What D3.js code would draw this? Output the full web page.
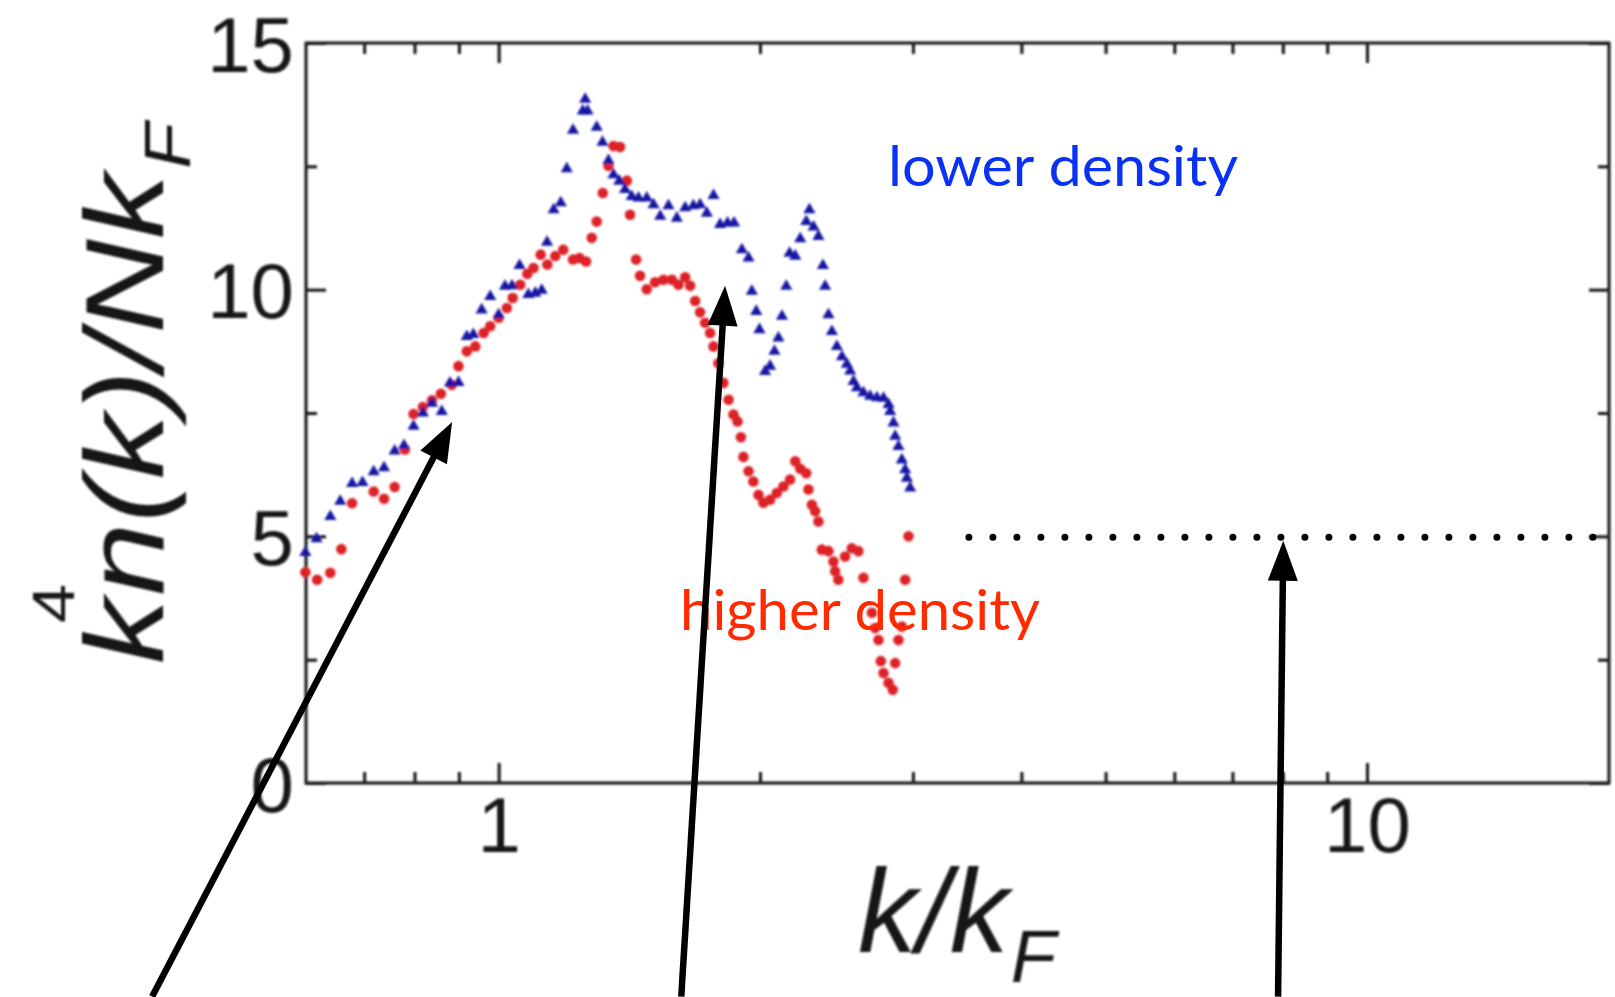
<!DOCTYPE html>
<html>
<head>
<meta charset="utf-8">
<script src="https://cdn.jsdelivr.net/npm/d3@7"></script>
<style>
  html, body { margin: 0; padding: 0; background: #fff; }
  svg { display: block; }
</style>
</head>
<body>
<svg id="chart" width="1615" height="997"></svg>
<script>
// Momentum distribution k^4 n(k) / N k_F versus k / k_F for two densities.
const lowerDensityK = [0.599,0.617,0.640,0.657,0.678,0.697,0.718,0.738,0.759,0.778,
  0.798,0.818,0.838,0.860,0.879,0.899,0.919,0.935,0.956,0.978,
  1.000,1.017,1.036,1.057,1.082,1.102,1.121,1.137,1.157,1.179,
  1.198,1.218,1.250,1.266,1.258,1.297,1.317,1.338,1.356,1.377,
  1.398,1.423,1.449,1.481,1.508,1.535,1.569,1.604,1.640,1.676,
  1.706,1.737,1.768,1.799,1.835,1.867,1.906,1.940,1.957,1.980,
  1.997,2.027,2.054,2.078,2.100,2.120,2.144,2.163,2.196,2.225,
  2.261,2.280,2.305,2.335,2.363,2.377,2.398,2.420,2.452,2.485,
  2.518,2.540,2.563,2.586,2.631,2.678,2.727,2.775,2.812,2.824,
  2.849,2.862,2.887,2.913,2.939,2.952,2.978];
const lowerDensityValue = [4.67,4.95,5.40,5.71,6.07,6.09,6.31,6.39,6.73,6.84,
  7.23,7.50,7.70,7.53,8.11,8.12,9.05,9.09,9.59,9.86,
  9.49,10.07,10.08,10.49,9.90,9.93,9.99,10.96,11.62,11.76,
  12.45,13.23,13.62,13.62,13.86,13.29,12.99,12.62,12.33,12.20,
  12.03,11.89,11.86,11.86,11.72,11.49,11.70,11.45,11.66,11.70,
  11.72,11.55,11.91,11.32,11.35,11.35,10.81,10.64,9.97,9.56,
  9.19,8.34,8.45,8.75,9.02,9.46,10.07,10.74,10.68,11.03,
  11.38,11.62,11.27,11.08,10.49,10.07,9.49,9.15,8.85,8.64,
  8.49,8.35,8.14,8.01,7.91,7.84,7.81,7.80,7.67,7.53,
  7.30,7.03,6.82,6.55,6.35,6.18,5.98];

const higherDensityK = [0.599,0.618,0.640,0.659,0.678,0.718,0.738,0.759,0.780,0.798,
  0.818,0.838,0.858,0.883,0.899,0.919,0.940,0.961,0.978,1.000,
  1.022,1.038,1.059,1.079,1.097,1.118,1.138,1.162,1.187,1.218,
  1.239,1.261,1.280,1.297,1.318,1.338,1.356,1.380,1.405,1.417,
  1.440,1.455,1.481,1.514,1.548,1.583,1.611,1.640,1.662,1.684,
  1.706,1.729,1.752,1.768,1.791,1.815,1.840,1.864,1.884,1.901,
  1.914,1.940,1.965,1.992,2.018,2.054,2.091,2.128,2.166,2.196,
  2.225,2.261,2.274,2.295,2.315,2.335,2.356,2.398,2.430,2.441,
  2.462,2.506,2.551,2.596,2.631,2.691,2.714,2.738,2.755,2.775,
  2.812,2.844,2.862,2.887,2.913,2.939,2.965];
const higherDensityValue = [4.27,4.12,4.26,4.74,5.67,5.91,5.76,6.00,6.76,7.48,
  7.62,7.76,7.89,8.07,8.45,8.75,8.85,9.12,9.26,9.43,
  9.63,9.83,10.10,10.32,10.44,10.71,10.51,10.68,10.81,10.61,
  10.64,10.57,11.05,11.38,11.96,12.51,12.91,12.89,12.21,11.52,
  10.61,10.28,10.01,10.15,10.20,10.20,10.10,10.25,10.08,9.77,
  9.54,9.33,9.12,8.85,8.51,8.11,7.77,7.47,7.33,7.01,
  6.61,6.32,6.11,5.84,5.68,5.74,5.88,6.01,6.15,6.52,
  6.37,6.28,5.95,5.64,5.51,5.30,4.73,4.70,4.49,4.29,
  4.12,4.59,4.76,4.70,4.16,3.45,3.14,2.90,2.47,2.23,
  2.03,1.89,2.43,2.90,3.17,4.12,5.00];

// Axis ticks
const xMajorTicks = [1, 10];
const xMinorTicks = [0.7, 0.8, 0.9, 2, 3, 4, 5, 6, 7, 8, 9];
const yMajorTicks = [0, 5, 10, 15];
const yMinorTicks = [2.5, 7.5, 12.5];

// Large-k tail level (dotted line)
const tailLevel = 5;
const tailRange = [3.48, 19];

// Arrows: start below the axis, pointing at regions of the curve
const arrowSpecs = [
  { from: [0.399, -4.33], to: [0.884, 7.32] },
  { from: [1.623, -4.33], to: [1.823, 10.08] },
  { from: [7.90, -4.33], to: [8.01, 4.91] }
];

const svg = d3.select("#chart");

const x = d3.scaleLog().domain([0.6, 19]).range([306, 1609]);
const y = d3.scaleLinear().domain([0, 15]).range([783, 43]);

const defs = svg.append("defs");
defs.append("filter").attr("id", "soft")
  .attr("x", "-5%").attr("y", "-5%").attr("width", "110%").attr("height", "110%")
  .append("feGaussianBlur").attr("stdDeviation", 0.9);

const fig = svg.append("g").attr("filter", "url(#soft)");

const axisFont = "'Liberation Sans', Arial, Helvetica, sans-serif";
const ink = "#151515";

function styleAxis(g, withLabels) {
  g.select(".domain").remove();
  g.selectAll(".tick line").attr("stroke", ink).attr("stroke-width", 3);
  if (withLabels) {
    g.attr("font-size", 78).attr("font-family", axisFont);
    g.selectAll(".tick text").attr("fill", ink);
  }
}

// Bottom axis
fig.append("g").attr("transform", `translate(0,${y(0)})`)
  .call(d3.axisBottom(x).tickValues(xMajorTicks).tickSize(-20).tickSizeOuter(0)
    .tickPadding(14).tickFormat(d3.format("d")))
  .call(g => styleAxis(g, true));
fig.append("g").attr("transform", `translate(0,${y(0)})`)
  .call(d3.axisBottom(x).tickValues(xMinorTicks).tickSize(-11).tickSizeOuter(0).tickFormat(""))
  .call(g => styleAxis(g, false));

// Top axis
fig.append("g").attr("transform", `translate(0,${y(15)})`)
  .call(d3.axisTop(x).tickValues(xMajorTicks).tickSize(-20).tickSizeOuter(0).tickFormat(""))
  .call(g => styleAxis(g, false));
fig.append("g").attr("transform", `translate(0,${y(15)})`)
  .call(d3.axisTop(x).tickValues(xMinorTicks).tickSize(-11).tickSizeOuter(0).tickFormat(""))
  .call(g => styleAxis(g, false));

// Left axis
fig.append("g").attr("transform", `translate(${x(0.6)},0)`)
  .call(d3.axisLeft(y).tickValues(yMajorTicks).tickSize(-20).tickSizeOuter(0)
    .tickPadding(12).tickFormat(d3.format("d")))
  .call(g => styleAxis(g, true))
  .call(g => g.selectAll(".tick text").attr("dy", "0.36em"));
fig.append("g").attr("transform", `translate(${x(0.6)},0)`)
  .call(d3.axisLeft(y).tickValues(yMinorTicks).tickSize(-11).tickSizeOuter(0).tickFormat(""))
  .call(g => styleAxis(g, false));

// Right axis
fig.append("g").attr("transform", `translate(${x(19)},0)`)
  .call(d3.axisRight(y).tickValues(yMajorTicks).tickSize(-20).tickSizeOuter(0).tickFormat(""))
  .call(g => styleAxis(g, false));
fig.append("g").attr("transform", `translate(${x(19)},0)`)
  .call(d3.axisRight(y).tickValues(yMinorTicks).tickSize(-11).tickSizeOuter(0).tickFormat(""))
  .call(g => styleAxis(g, false));

// Plot frame
fig.append("rect")
  .attr("x", x(0.6)).attr("y", y(15))
  .attr("width", x(19) - x(0.6)).attr("height", y(0) - y(15))
  .attr("fill", "none").attr("stroke", ink).attr("stroke-width", 3);

// Higher density: red circles
fig.append("g").selectAll("path")
  .data(d3.range(higherDensityK.length))
  .join("path")
  .attr("d", d3.symbol(d3.symbolCircle, 88))
  .attr("transform", i => `translate(${x(higherDensityK[i])},${y(higherDensityValue[i])})`)
  .attr("fill", "#dc2228");

// Lower density: blue triangles
fig.append("g").selectAll("path")
  .data(d3.range(lowerDensityK.length))
  .join("path")
  .attr("d", d3.symbol(d3.symbolTriangle, 64))
  .attr("transform", i => `translate(${x(lowerDensityK[i])},${y(lowerDensityValue[i])})`)
  .attr("fill", "#1818a2");

// Axis titles
const xTitle = fig.append("text")
  .attr("x", 858).attr("y", 952)
  .attr("font-family", axisFont).attr("font-style", "italic")
  .attr("font-size", 118).attr("fill", ink);
xTitle.append("tspan").text("k/k");
xTitle.append("tspan").attr("font-size", 74).attr("dx", 2).attr("dy", 30).text("F");

const yTitle = fig.append("g")
  .attr("transform", "translate(163,664) rotate(-90) scale(1.17,1)")
  .append("text")
  .attr("font-family", axisFont).attr("font-style", "italic")
  .attr("font-size", 112).attr("fill", ink);
yTitle.append("tspan").text("k");
yTitle.append("tspan").attr("font-size", 60).attr("font-style", "normal")
  .attr("dx", -21).attr("dy", -89).text("4");
yTitle.append("tspan").attr("dx", -10).attr("dy", 89).text("n(k)/Nk");
yTitle.append("tspan").attr("font-size", 64).attr("dx", 4).attr("dy", 27).text("F");

// Annotations
const notes = svg.append("g");

notes.append("line")
  .attr("x1", x(tailRange[0])).attr("x2", x(tailRange[1]))
  .attr("y1", y(tailLevel) + 1).attr("y2", y(tailLevel) + 1)
  .attr("stroke", "#000").attr("stroke-width", 7)
  .attr("stroke-linecap", "round").attr("stroke-dasharray", "0 24");

notes.append("text")
  .attr("x", 888).attr("y", 186)
  .attr("font-family", "Lato, 'Open Sans', sans-serif")
  .attr("font-size", 57).attr("fill", "#0a32f5")
  .attr("textLength", 350).attr("lengthAdjust", "spacingAndGlyphs")
  .text("lower density");

notes.append("text")
  .attr("x", 680).attr("y", 630)
  .attr("font-family", "Lato, 'Open Sans', sans-serif")
  .attr("font-size", 57).attr("fill", "#ff2a00")
  .attr("textLength", 360).attr("lengthAdjust", "spacingAndGlyphs")
  .text("higher density");

const headLen = 40, headHalf = 15;
arrowSpecs.forEach(a => {
  const p0 = [x(a.from[0]), y(a.from[1])];
  const p1 = [x(a.to[0]), y(a.to[1])];
  const dx = p1[0] - p0[0], dy = p1[1] - p0[1];
  const L = Math.hypot(dx, dy), ux = dx / L, uy = dy / L;
  const base = [p1[0] - ux * headLen, p1[1] - uy * headLen];
  notes.append("line")
    .attr("x1", p0[0]).attr("y1", p0[1])
    .attr("x2", base[0] + ux * 4).attr("y2", base[1] + uy * 4)
    .attr("stroke", "#000").attr("stroke-width", 6.5);
  notes.append("path")
    .attr("d", d3.line()([
      p1,
      [base[0] - uy * headHalf, base[1] + ux * headHalf],
      [base[0] + uy * headHalf, base[1] - ux * headHalf]
    ]) + "Z")
    .attr("fill", "#000");
});
</script>
</body>
</html>
